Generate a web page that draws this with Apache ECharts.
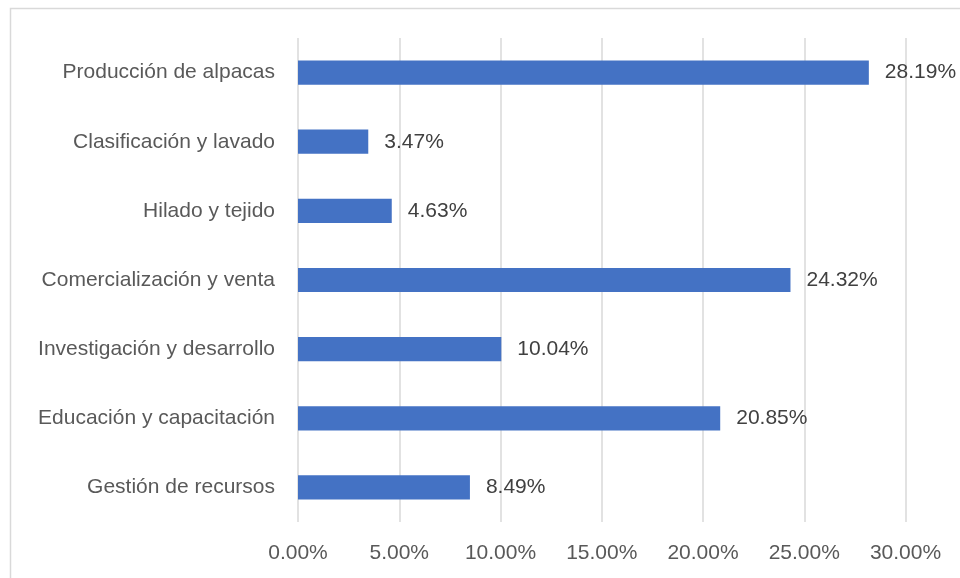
<!DOCTYPE html>
<html>
<head>
<meta charset="utf-8">
<style>
  html, body { margin: 0; padding: 0; background: #fff; }
  #chart { width: 960px; height: 578px; }
</style>
<script src="https://cdn.jsdelivr.net/npm/echarts@6/dist/echarts.min.js"></script>
</head>
<body>
<div id="chart"></div>
<script>
// Categories listed bottom-to-top (category axis on y starts at the bottom)
const categories = [
  'Gestión de recursos',
  'Educación y capacitación',
  'Investigación y desarrollo',
  'Comercialización y venta',
  'Hilado y tejido',
  'Clasificación y lavado',
  'Producción de alpacas'
];
const shares = [8.49, 20.85, 10.04, 24.32, 4.63, 3.47, 28.19];
const axisTicks = [0, 5, 10, 15, 20, 25, 30];

const fontFamily = 'Liberation Sans, Noto Sans, sans-serif';
const fontSize = 21;

const chart = echarts.init(document.getElementById('chart'));
chart.setOption({
  animation: false,
  backgroundColor: '#ffffff',
  graphic: [{
    type: 'rect',
    shape: { x: 10.5, y: 8.5, width: 1000, height: 1000 },
    style: { fill: 'none', stroke: '#d9d9d9', lineWidth: 1.5 },
    silent: true
  }],
  grid: { left: 298, right: 54.5, top: 38, bottom: 56, containLabel: false },
  xAxis: {
    type: 'value',
    min: axisTicks[0],
    max: axisTicks[axisTicks.length - 1],
    interval: axisTicks[1] - axisTicks[0],
    axisLine: { show: false },
    axisTick: { show: false },
    splitLine: { show: true, lineStyle: { color: '#d9d9d9', width: 1.5 } },
    axisLabel: {
      margin: 21,
      color: '#595959',
      fontSize: fontSize,
      fontFamily: fontFamily,
      formatter: v => v.toFixed(2) + '%'
    }
  },
  yAxis: {
    type: 'category',
    data: categories,
    axisLine: { show: false },
    axisTick: { show: false },
    splitLine: { show: false },
    axisLabel: {
      margin: 23,
      color: '#595959',
      fontSize: fontSize,
      fontFamily: fontFamily
    }
  },
  series: [{
    type: 'bar',
    data: shares,
    barWidth: '35%',
    itemStyle: { color: '#4472c4' },
    label: {
      show: true,
      position: 'right',
      distance: 16,
      color: '#404040',
      fontSize: fontSize,
      fontFamily: fontFamily,
      formatter: p => p.value.toFixed(2) + '%'
    }
  }]
});
</script>
</body>
</html>
